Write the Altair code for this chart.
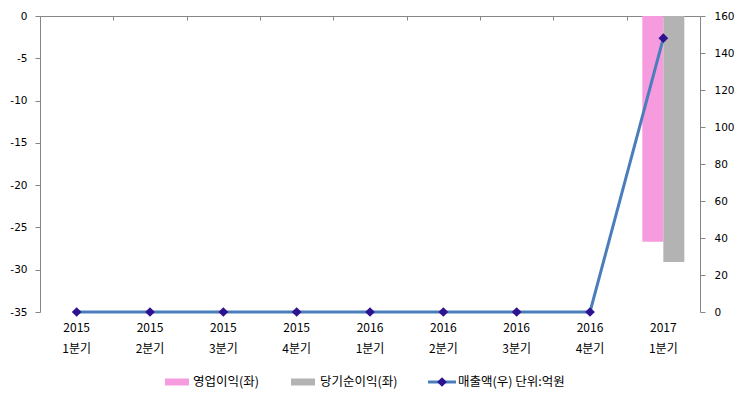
import altair as alt
import pandas as pd

# ---- data ----
years = ["2015", "2015", "2015", "2015", "2016", "2016", "2016", "2016", "2017"]
quarters = ["1분기", "2분기", "3분기", "4분기", "1분기", "2분기", "3분기", "4분기", "1분기"]
op_profit = [0, 0, 0, 0, 0, 0, 0, 0, -26.7]      # 영업이익(좌)
net_profit = [0, 0, 0, 0, 0, 0, 0, 0, -29.1]     # 당기순이익(좌)
revenue = [0, 0, 0, 0, 0, 0, 0, 0, 148]          # 매출액(우)
series_names = ["영업이익(좌)", "당기순이익(좌)"]
line_name = "매출액(우)  단위:억원"
left_ticks = [-35, -30, -25, -20, -15, -10, -5, 0]
right_ticks = [0, 20, 40, 60, 80, 100, 120, 140, 160]

cats = [f"{y}\n{q}" for y, q in zip(years, quarters)]

bar_rows = []
for c, a, b in zip(cats, op_profit, net_profit):
    bar_rows.append({"cat": c, "series": series_names[0], "value": a})
    bar_rows.append({"cat": c, "series": series_names[1], "value": b})
bars_df = pd.DataFrame(bar_rows)
line_df = pd.DataFrame({"cat": cats, "revenue": revenue})

PINK = "#F79BDF"
GRAY = "#B3B3B3"
LINE = "#4A7EBB"
MARK = "#2E1390"
AXIS = "#868686"
NUMFONT = "DejaVu Sans"
KRFONT = "Noto Sans CJK KR"

W, H = 660, 296
step = W / len(cats)
pin = 0.427
xscale = alt.Scale(paddingInner=pin, paddingOuter=pin / 2)

x_bottom = alt.X("cat:N", sort=cats, scale=xscale, title=None,
                 axis=alt.Axis(orient="bottom", domain=False, ticks=False, tickSize=0,
                               labelAngle=0, labelExpr="split(datum.label, '\\n')",
                               labelLineHeight=21, labelPadding=10,
                               labelFont=KRFONT, labelFontSize=12, labelColor="black"))
top_axis = alt.Axis(orient="bottom", offset=-H, labels=False, domainColor=AXIS,
                    tickColor=AXIS, tickSize=4, tickOffset=-step / 2, title=None)
x_top = alt.X("cat:N", sort=cats, scale=xscale, title=None, axis=top_axis)

bars = alt.Chart(bars_df).mark_bar().encode(
    x=x_bottom,
    xOffset=alt.XOffset("series:N", sort=series_names,
                        scale=alt.Scale(paddingInner=0, paddingOuter=0)),
    y=alt.Y("value:Q", scale=alt.Scale(domain=[-35, 0], nice=False), title=None,
            axis=alt.Axis(orient="left", values=left_ticks, grid=False, tickSize=5,
                          tickColor=AXIS, domainColor=AXIS, labelPadding=8,
                          labelFont=NUMFONT, labelFontSize=10.5, labelColor="black",
                          labelExpr="datum.value + ''")),
    color=alt.Color("series:N", sort=series_names,
                    scale=alt.Scale(domain=series_names, range=[PINK, GRAY]), legend=None),
)

right_axis = alt.Axis(orient="right", values=right_ticks, grid=False, tickSize=5,
                      tickColor=AXIS, domainColor=AXIS, labelPadding=9,
                      labelFont=NUMFONT, labelFontSize=10.5, labelColor="black")
yr = alt.Y("revenue:Q", scale=alt.Scale(domain=[0, 160], nice=False), title=None, axis=right_axis)

line = alt.Chart(line_df).mark_line(color=LINE, strokeWidth=3).encode(x=x_top, y=yr)
points = alt.Chart(line_df).mark_point(shape="diamond", filled=True, size=95,
                                       color=MARK, opacity=1).encode(x=x_top, y=yr)
right = alt.layer(line, points)

# ---- legend (drawn as decoration) ----
LY = 366
leg = []
leg.append(alt.Chart(pd.DataFrame({"t": [series_names[0]]})).mark_rect(color=PINK).encode(
    x=alt.value(125), x2=alt.value(149), y=alt.value(LY - 3.5), y2=alt.value(LY + 3.5)))
leg.append(alt.Chart(pd.DataFrame({"t": [series_names[0]]})).mark_text(
    align="left", baseline="middle", font=KRFONT, fontSize=12.5, color="black").encode(
    text="t:N", x=alt.value(153), y=alt.value(LY)))
leg.append(alt.Chart(pd.DataFrame({"t": [series_names[1]]})).mark_rect(color=GRAY).encode(
    x=alt.value(251), x2=alt.value(275), y=alt.value(LY - 3.5), y2=alt.value(LY + 3.5)))
leg.append(alt.Chart(pd.DataFrame({"t": [series_names[1]]})).mark_text(
    align="left", baseline="middle", font=KRFONT, fontSize=12.5, color="black").encode(
    text="t:N", x=alt.value(280), y=alt.value(LY)))
leg.append(alt.Chart(pd.DataFrame({"t": [line_name]})).mark_rule(color=LINE, strokeWidth=3).encode(
    x=alt.value(388), x2=alt.value(416), y=alt.value(LY)))
leg.append(alt.Chart(pd.DataFrame({"t": [line_name]})).mark_point(
    shape="diamond", filled=True, size=95, color=MARK, opacity=1).encode(
    x=alt.value(402), y=alt.value(LY)))
leg.append(alt.Chart(pd.DataFrame({"t": [line_name]})).mark_text(
    align="left", baseline="middle", font=KRFONT, fontSize=12.5, color="black").encode(
    text="t:N", x=alt.value(418), y=alt.value(LY)))

main = alt.layer(bars, right).resolve_scale(y="independent").resolve_axis(x="independent")

chart = alt.layer(main, *leg).properties(
    width=W, height=H,
    autosize=alt.AutoSizeParams(type="none"),
    padding={"left": 32, "top": 8, "right": 35, "bottom": 78},
    background="white",
).configure_view(stroke=None)

chart.save("out.html", embed_options={"renderer": "svg", "actions": False})
